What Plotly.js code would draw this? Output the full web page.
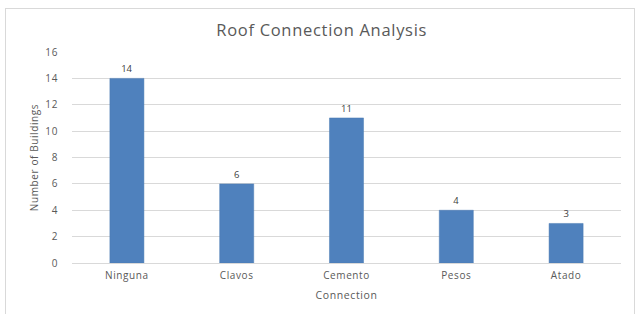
<!DOCTYPE html>
<html>
<head>
<meta charset="utf-8">
<script src="https://cdn.plot.ly/plotly-3.0.1.min.js"></script>
<style>
html,body{margin:0;padding:0;background:#fff;}
#wrap{position:relative;width:637px;height:314px;}
#chart{position:absolute;left:0;top:0;width:637px;height:314px;}
#frame{position:absolute;left:5px;top:8px;width:628px;height:310px;border:1px solid #d9d9d9;pointer-events:none;}
#chart .xtick text, #chart .ytick text, #chart .xtitle, #chart .ytitle, #chart .textpoint text{letter-spacing:0.6px;}
#chart .gtitle{letter-spacing:0.7px;}
</style>
</head>
<body>
<div id="wrap"><div id="chart"></div><div id="frame"></div></div>
<script>
const categories = ["Ninguna", "Clavos", "Cemento", "Pesos", "Atado"];
const buildings = [14, 6, 11, 4, 3];
const yTicks = [0, 2, 4, 6, 8, 10, 12, 14, 16];

const font = "'Open Sans', sans-serif";

Plotly.newPlot("chart", [{
  type: "bar",
  x: categories,
  y: buildings,
  width: 0.31,
  marker: {color: "#4f81bd", line: {color: "#4a7ab3", width: 0.5}},
  text: buildings.map(String),
  textposition: "outside",
  textfont: {family: font, size: 9.5, color: "#404040"},
  cliponaxis: false,
  hoverinfo: "none"
}], {
  width: 637, height: 314,
  margin: {l: 72, r: 16, t: 52, b: 51},
  paper_bgcolor: "rgba(0,0,0,0)",
  plot_bgcolor: "rgba(0,0,0,0)",
  showlegend: false,
  title: {text: "Roof Connection Analysis", x: 0.505, xanchor: "center", y: 0.905, yanchor: "middle",
          font: {family: font, size: 16.5, color: "#595959"}},
  xaxis: {
    tickfont: {family: font, size: 10, color: "#595959"},
    showgrid: false, zeroline: false, showline: false, ticks: "", ticklabelstandoff: 5,
    title: {text: "Connection", font: {family: font, size: 10.5, color: "#595959"}, standoff: 10}
  },
  yaxis: {
    range: [0, 16], tickvals: yTicks, ticktext: yTicks.map(String),
    tickfont: {family: font, size: 10, color: "#595959"},
    showgrid: true, gridcolor: "#d9d9d9", gridwidth: 1,
    zeroline: true, zerolinecolor: "#d9d9d9", zerolinewidth: 1,
    showline: false, ticks: "", ticklabelstandoff: 13,
    title: {text: "Number of Buildings", font: {family: font, size: 10, color: "#595959"}, standoff: 6}
  }
}, {staticPlot: true});
</script>
</body>
</html>
